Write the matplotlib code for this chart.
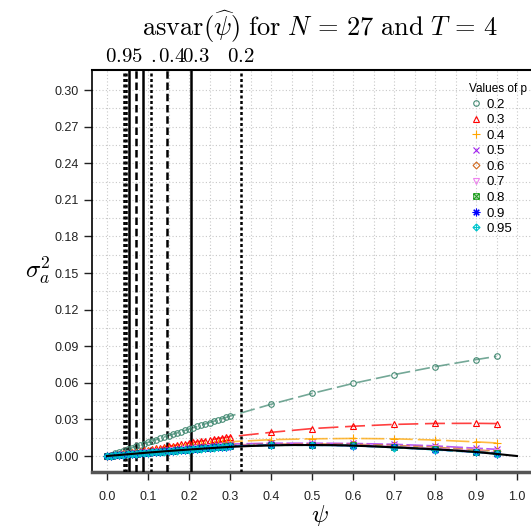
import matplotlib
matplotlib.use('Agg')
import matplotlib.pyplot as plt
from matplotlib.path import Path
import numpy as np

plt.rcParams['mathtext.fontset'] = 'cm'
plt.rcParams['font.family'] = ['Liberation Sans', 'DejaVu Sans']

# data
p_values = ['0.2', '0.3', '0.4', '0.5', '0.6', '0.7', '0.8', '0.9', '0.95']
psi = list(np.round(np.arange(0, 0.301, 0.01), 2)) + [0.4, 0.5, 0.6, 0.7, 0.8, 0.9, 0.95]

var_02 = [0.0000, 0.0011, 0.0023, 0.0034, 0.0045, 0.0056, 0.0067, 0.0079, 0.0090, 0.0101,
          0.0112, 0.0123, 0.0134, 0.0145, 0.0156, 0.0167, 0.0178, 0.0189, 0.0199, 0.0210,
          0.0221, 0.0232, 0.0242, 0.0253, 0.0264, 0.0274, 0.0285, 0.0295, 0.0306, 0.0316,
          0.0327, 0.0424, 0.0513, 0.0595, 0.0667, 0.0732, 0.0790, 0.0817]
var_03 = [0.0000, 0.0005, 0.0011, 0.0016, 0.0021, 0.0027, 0.0032, 0.0037, 0.0043, 0.0048,
          0.0053, 0.0058, 0.0064, 0.0069, 0.0074, 0.0080, 0.0085, 0.0090, 0.0095, 0.0101,
          0.0106, 0.0111, 0.0116, 0.0122, 0.0127, 0.0132, 0.0137, 0.0143, 0.0148, 0.0153,
          0.0158, 0.0194, 0.0225, 0.0244, 0.0259, 0.0267, 0.0268, 0.0266]
var_04 = [0.0000, 0.0004, 0.0008, 0.0012, 0.0016, 0.0020, 0.0024, 0.0027, 0.0031, 0.0035,
          0.0039, 0.0043, 0.0047, 0.0051, 0.0055, 0.0059, 0.0062, 0.0066, 0.0070, 0.0074,
          0.0078, 0.0082, 0.0086, 0.0090, 0.0094, 0.0097, 0.0101, 0.0105, 0.0109, 0.0113,
          0.0117, 0.0134, 0.0141, 0.0144, 0.0141, 0.0131, 0.0116, 0.0107]
var_05 = [0.0000, 0.0003, 0.0007, 0.0010, 0.0013, 0.0016, 0.0020, 0.0023, 0.0026, 0.0029,
          0.0033, 0.0036, 0.0039, 0.0042, 0.0046, 0.0049, 0.0052, 0.0055, 0.0059, 0.0062,
          0.0065, 0.0068, 0.0072, 0.0075, 0.0078, 0.0081, 0.0085, 0.0088, 0.0091, 0.0094,
          0.0098, 0.0105, 0.0105, 0.0103, 0.0096, 0.0083, 0.0064, 0.0055]
var_06 = [0.0000, 0.0003, 0.0006, 0.0009, 0.0012, 0.0015, 0.0018, 0.0021, 0.0024, 0.0027,
          0.0030, 0.0033, 0.0036, 0.0039, 0.0042, 0.0045, 0.0048, 0.0051, 0.0054, 0.0057,
          0.0060, 0.0063, 0.0066, 0.0069, 0.0072, 0.0075, 0.0078, 0.0081, 0.0084, 0.0087,
          0.0090, 0.0097, 0.0099, 0.0096, 0.0087, 0.0072, 0.0050, 0.0040]
var_07 = [0.0000, 0.0003, 0.0006, 0.0009, 0.0011, 0.0014, 0.0017, 0.0020, 0.0023, 0.0026,
          0.0029, 0.0032, 0.0034, 0.0037, 0.0040, 0.0043, 0.0046, 0.0049, 0.0052, 0.0054,
          0.0057, 0.0060, 0.0063, 0.0066, 0.0069, 0.0072, 0.0074, 0.0077, 0.0080, 0.0083,
          0.0086, 0.0093, 0.0095, 0.0091, 0.0080, 0.0063, 0.0042, 0.0030]
var_08 = [0.0000, 0.0003, 0.0006, 0.0008, 0.0011, 0.0014, 0.0017, 0.0019, 0.0022, 0.0025,
          0.0028, 0.0030, 0.0033, 0.0036, 0.0039, 0.0042, 0.0044, 0.0047, 0.0050, 0.0053,
          0.0055, 0.0058, 0.0061, 0.0064, 0.0066, 0.0069, 0.0072, 0.0075, 0.0077, 0.0080,
          0.0083, 0.0091, 0.0092, 0.0088, 0.0075, 0.0057, 0.0036, 0.0024]
var_09 = [0.0000, 0.0003, 0.0005, 0.0008, 0.0011, 0.0014, 0.0016, 0.0019, 0.0022, 0.0024,
          0.0027, 0.0030, 0.0032, 0.0035, 0.0038, 0.0041, 0.0043, 0.0046, 0.0049, 0.0051,
          0.0054, 0.0057, 0.0059, 0.0062, 0.0065, 0.0068, 0.0070, 0.0073, 0.0076, 0.0078,
          0.0081, 0.0089, 0.0089, 0.0085, 0.0071, 0.0052, 0.0032, 0.0020]
var_095 = [0.0000, 0.0003, 0.0005, 0.0008, 0.0011, 0.0013, 0.0016, 0.0019, 0.0021, 0.0024,
           0.0027, 0.0029, 0.0032, 0.0035, 0.0037, 0.0040, 0.0043, 0.0045, 0.0048, 0.0051,
           0.0053, 0.0056, 0.0059, 0.0061, 0.0064, 0.0067, 0.0069, 0.0072, 0.0075, 0.0077,
           0.0080, 0.0088, 0.0088, 0.0084, 0.0069, 0.0050, 0.0030, 0.0018]
series = [var_02, var_03, var_04, var_05, var_06, var_07, var_08, var_09, var_095]

# limiting curve (black)
psi_lim = [0.0, 0.05, 0.1, 0.15, 0.2, 0.25, 0.3, 0.35, 0.4, 0.45, 0.5,
           0.55, 0.6, 0.65, 0.7, 0.75, 0.8, 0.85, 0.9, 0.95, 1.0]
var_lim = [0.0, 0.0014, 0.0028, 0.0041, 0.0053, 0.0064, 0.0075, 0.0082, 0.0087, 0.0090, 0.0090,
           0.0089, 0.0085, 0.0079, 0.0071, 0.0063, 0.0055, 0.0045, 0.0033, 0.0017, 0.0]

# vertical reference lines, one per p
vline_psi = [0.326, 0.206, 0.147, 0.108, 0.087, 0.070, 0.0537, 0.0463, 0.0415]
top_ticks = [0.0415, 0.112, 0.1585, 0.217, 0.326]
top_labels = ['$0.95$', '$.$', '$0.4$', '$0.3$', '$0.2$']

colors = ['#458B74', '#FF0000', '#FFA500', '#A020F0', '#D2691E',
          '#EE82EE', '#1E9E1E', '#0000FF', '#00C5CD']

M, L, C = Path.MOVETO, Path.LINETO, Path.CLOSEPOLY
box_x = Path([(-1, -1), (1, -1), (1, 1), (-1, 1), (-1, -1), (-1, -1), (1, 1), (-1, 1), (1, -1)],
             [M, L, L, L, C, M, L, M, L])
dia_plus = Path([(0, -1), (1, 0), (0, 1), (-1, 0), (0, -1), (-1, 0), (1, 0), (0, -1), (0, 1)],
                [M, L, L, L, C, M, L, M, L])
markers = ['o', '^', '+', 'x', 'D', 'v', box_x, (8, 2, 0), dia_plus]
msizes = [4, 4.5, 5.5, 4.5, 3.5, 4.5, 4, 5.5, 5]
dashes = [(0, (9, 3)), (0, (12, 4)), (0, (14, 3)), (0, (10, 2)), (0, (6, 2)),
          (0, (8, 3)), (0, (5, 2)), (0, (12, 3)), (0, (4, 2))]
vstyles = [(0, (1.2, 1)), '-', (0, (3, 1.5)), (0, (1.2, 1)), '-', (0, (3, 1.5)),
           '-', (0, (1.2, 1)), (0, (1.2, 1))]

fig = plt.figure(figsize=(5.31, 5.26), dpi=100)
ax = fig.add_axes([92 / 531, 1 - 472 / 526, 456 / 531, 402 / 526])

for vx, ls in zip(vline_psi, vstyles):
    ax.axvline(vx, color='black', lw=1.8, ls=ls, zorder=3)

handles = []
for vals, col, mk, ms, ds, lab in zip(series, colors, markers, msizes, dashes, p_values):
    ax.plot(psi, vals, color=col, lw=1.2, ls=ds, alpha=0.75, zorder=2)
    h, = ax.plot(psi, vals, ls='none', marker=mk, ms=ms, mew=0.8,
                 mfc='none', mec=col, label=lab, zorder=4)
    handles.append(h)

ax.plot(psi_lim, var_lim, color='black', lw=1.5, zorder=5)

ax.set_xlim(-0.0366, 1.0756)
ax.set_ylim(-0.0131, 0.3164)
ax.set_xticks(np.arange(0, 1.01, 0.1))
ax.set_xticks(np.arange(0.05, 1.07, 0.1), minor=True)
ax.set_yticks(np.arange(0, 0.301, 0.03))
ax.set_yticks(np.arange(0.015, 0.31, 0.03), minor=True)
ax.set_xticklabels([f'{v:.1f}' for v in np.arange(0, 1.01, 0.1)])
ax.set_yticklabels([f'{v:.2f}' for v in np.arange(0, 0.301, 0.03)])
ax.tick_params(which='major', direction='out', length=6, width=1, labelsize=9, colors='#222222')
ax.tick_params(axis='x', which='major', pad=8)
ax.tick_params(which='minor', length=0)
ax.grid(which='both', color='#c8c8c8', ls=(0, (1, 2)), lw=0.8, zorder=0)

ax.spines['top'].set_linewidth(1.5)
ax.spines['left'].set_linewidth(1.2)
ax.spines['bottom'].set_color('#555555')
ax.spines['bottom'].set_linewidth(2.5)
ax.spines['right'].set_visible(False)

sec = ax.secondary_xaxis('top')
sec.set_xticks(top_ticks)
sec.set_xticklabels(top_labels, fontsize=15)
sec.tick_params(length=0, pad=3)
sec.spines['top'].set_visible(False)

ax.set_xlabel(r'$\psi$', fontsize=18, labelpad=0)
ax.set_ylabel(r'$\sigma_a^2$', fontsize=18, rotation=0, labelpad=12, va='center')
fig.text(0.603, 0.950,
         r'$\mathrm{asvar}(\widehat{\psi})\ \mathrm{for}\ N\,=\,27\ \mathrm{and}\ T\,=\,4$',
         fontsize=19, ha='center', va='center')

leg = ax.legend(handles=handles, title='Values of p', loc='upper left',
                bbox_to_anchor=(464 / 531, 1 - 78 / 526), bbox_transform=fig.transFigure,
                frameon=False, fontsize=9.5, title_fontsize=8.5, handlelength=1.0,
                handletextpad=0.3, labelspacing=0.25, borderaxespad=0)
leg._legend_box.align = 'left'
leg._legend_handle_box.set_offset(lambda *a: (21, 0))

fig.savefig('out.png', dpi=100)
